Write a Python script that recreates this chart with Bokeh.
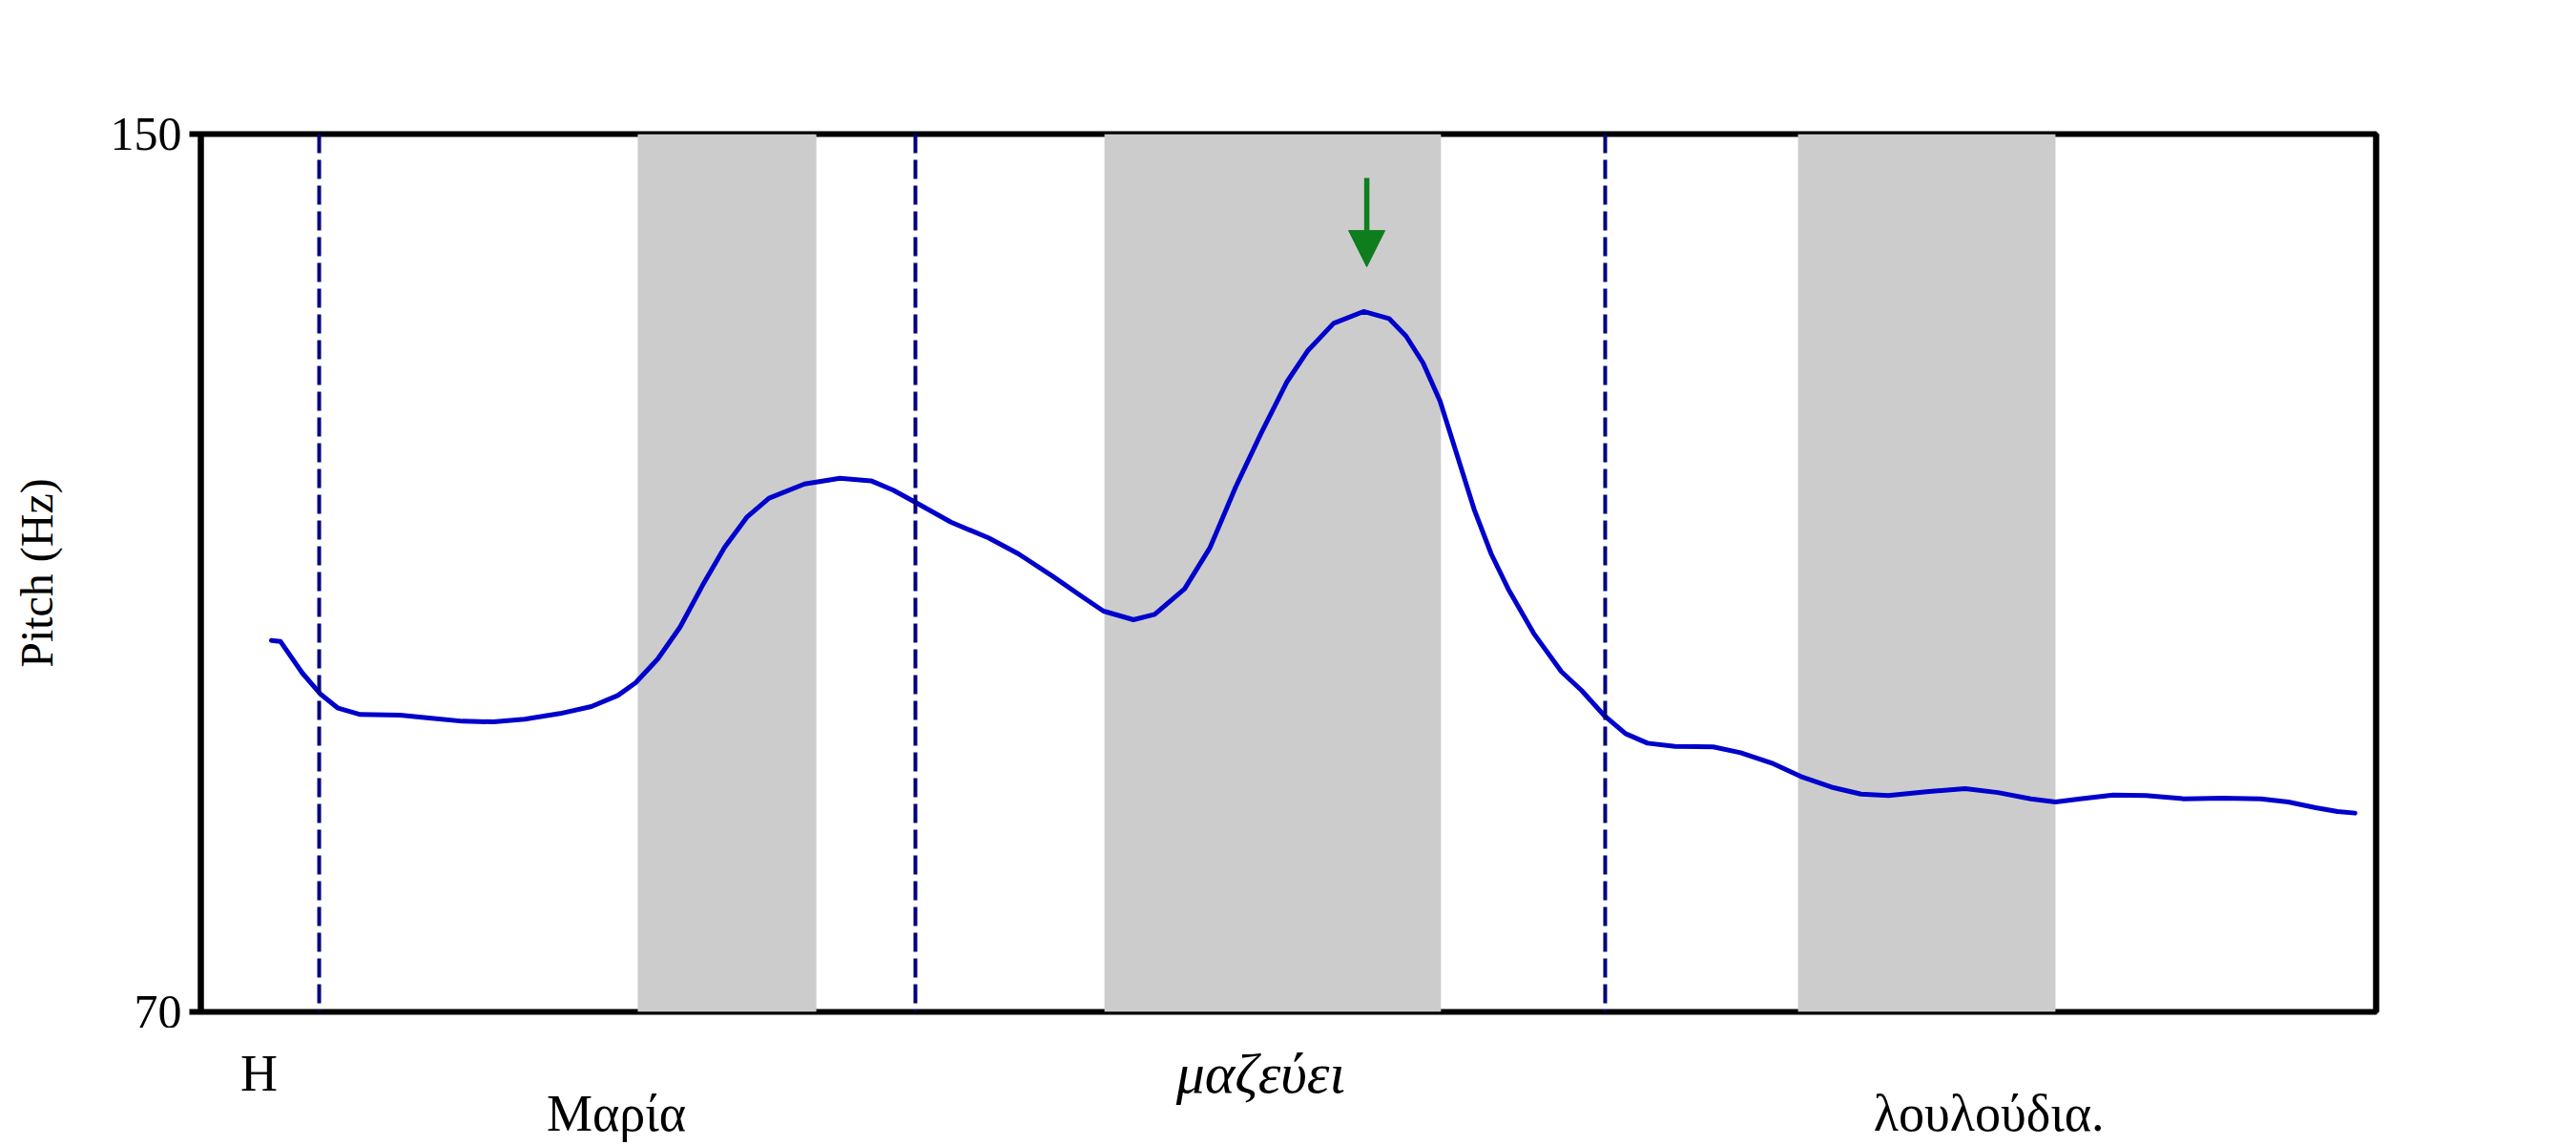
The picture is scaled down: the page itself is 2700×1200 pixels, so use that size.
from bokeh.plotting import figure
from bokeh.layouts import column
from bokeh.models import (Range1d, FixedTicker, Span, Arrow, NormalHead, LinearAxis,
                          ColumnDataSource, CDSView, BooleanFilter)
from bokeh.core.properties import value
from bokeh.embed import file_html
from bokeh.resources import INLINE

# ---- data ----
time_ms = [64.9, 73.1, 93.4, 109.8, 126.2, 146.6, 183.3, 207.7, 240.5, 269.1, 297.7,
           330.2, 359.0, 383.4, 399.8, 420.2, 440.6, 461.1, 481.5, 501.9, 522.4, 555.0,
           587.6, 616.2, 636.7, 657.1, 689.7, 724.3, 751.8, 783.1, 810.5, 830.0, 857.5,
           877.0, 904.5, 927.9, 951.4, 974.9, 998.4, 1018.0, 1041.5, 1069.0, 1092.4,
           1108.1, 1123.8, 1139.4, 1155.1, 1170.7, 1186.4, 1202.0, 1225.5, 1251.0,
           1269.6, 1290.8, 1309.9, 1330.1, 1355.3, 1390.5, 1415.7, 1445.9, 1471.1,
           1501.2, 1526.4, 1551.6, 1586.8, 1622.1, 1652.3, 1682.5, 1705.2, 1727.8,
           1758.1, 1788.3, 1823.5, 1858.8, 1894.1, 1919.2, 1944.4, 1964.5, 1980.6]
pitch_hz = [103.85, 103.77, 100.87, 98.98, 97.68, 97.10, 97.04, 96.81, 96.49, 96.43,
            96.67, 97.19, 97.83, 98.84, 100.0, 102.17, 105.07, 108.84, 112.32, 115.07,
            116.81, 118.11, 118.63, 118.40, 117.54, 116.43, 114.63, 113.19, 111.74,
            109.71, 107.83, 106.52, 105.74, 106.23, 108.55, 112.32, 117.83, 122.75,
            127.39, 130.29, 132.75, 133.83, 133.19, 131.59, 129.13, 125.65, 120.72,
            115.80, 111.74, 108.55, 104.49, 101.0, 99.28, 96.96, 95.36, 94.49, 94.20,
            94.15, 93.62, 92.61, 91.45, 90.43, 89.85, 89.71, 90.06, 90.35, 89.99, 89.42,
            89.13, 89.42, 89.77, 89.71, 89.42, 89.48, 89.42, 89.13, 88.61, 88.26, 88.12]

boundaries_ms = [108.8, 657.0, 1291.2]
stressed_start_ms = [401.7, 830.8, 1468.5]
stressed_end_ms = [565.9, 1140.2, 1705.2]

words = ["Η", "Μαρία", "μαζεύει", "λουλούδια."]
word_x_ms = [53.5, 382, 974.5, 1644]
word_row = [0, 1, 0, 1]          # 0 = upper line, 1 = lower line
word_focus = [False, False, True, False]   # focused word shown in italics

peak_x_ms = 1072
arrow_from_hz = 146.0
arrow_to_hz = 137.9

y_ticks = [70, 150]
x_min, x_max = 0, 2000
y_min, y_max = 70, 150

FONT = "Liberation Serif"
LEFT, RIGHT, TOP = 210, 210, 140
FRAME_W, FRAME_H = 2280, 920
GAP = 17                 # space under the chart frame inside the main canvas
WORDS_H = 1200 - TOP - FRAME_H - GAP
TICK_DOWN_PX = 13
px_per_hz = FRAME_H / (y_max - y_min)
frame_bounds = (y_min - TICK_DOWN_PX / px_per_hz, y_max)

# ---- main chart ----
p = figure(output_backend="svg", toolbar_location=None, title_location=None,
           x_axis_location=None,
           x_range=Range1d(x_min, x_max), y_range=Range1d(y_min, y_max),
           min_border_left=LEFT, min_border_right=RIGHT, min_border_top=TOP,
           min_border_bottom=GAP)
p.frame_width = FRAME_W
p.frame_height = FRAME_H

p.xgrid.visible = False
p.ygrid.visible = False
p.outline_line_color = "black"
p.outline_line_width = 6
p.background_fill_color = "white"

p.quad(left=stressed_start_ms, right=stressed_end_ms, bottom=y_min, top=y_max,
       fill_color="#cccccc", line_color=None)

for b in boundaries_ms:
    p.add_layout(Span(location=b, dimension="height", line_color="#000080",
                      line_width=4, line_dash="20 7"))

p.line(time_ms, pitch_hz, line_color="#0000cc", line_width=5,
       line_join="round", line_cap="round")

p.add_layout(Arrow(x_start=peak_x_ms, y_start=arrow_from_hz, x_end=peak_x_ms,
                   y_end=arrow_to_hz, line_color="#0e7d1e", line_width=5.5,
                   end=NormalHead(size=38, fill_color="#0e7d1e", line_color="#0e7d1e",
                                  line_width=1)))

p.yaxis.ticker = FixedTicker(ticks=y_ticks)
p.yaxis.bounds = frame_bounds
p.yaxis.axis_label = "Pitch (Hz)"
p.yaxis.axis_label_text_font = FONT
p.yaxis.axis_label_text_font_size = "48px"
p.yaxis.axis_label_text_font_style = "normal"
p.yaxis.axis_label_text_color = "black"
p.yaxis.axis_label_standoff = 48
p.yaxis.major_label_text_font = FONT
p.yaxis.major_label_text_font_size = "50px"
p.yaxis.major_label_text_color = "black"
p.yaxis.major_label_standoff = 8
p.yaxis.major_tick_out = 12
p.yaxis.major_tick_in = 0
p.yaxis.minor_tick_line_color = None
p.yaxis.axis_line_width = 6
p.yaxis.major_tick_line_width = 6

right_axis = LinearAxis(ticker=FixedTicker(ticks=[]), bounds=frame_bounds,
                        axis_line_width=6, major_tick_line_color=None,
                        minor_tick_line_color=None, major_label_text_font_size="0px")
p.add_layout(right_axis, "right")

# ---- word line under the chart ----
ROW_PX = 42
ROW0_PX = 47             # baseline of upper line below the top of this strip
words_src = ColumnDataSource(dict(x=word_x_ms, row=word_row, text=words))
q = figure(output_backend="svg", toolbar_location=None, title_location=None,
           x_range=p.x_range,
           y_range=Range1d(1 + (WORDS_H - ROW0_PX - ROW_PX) / ROW_PX, -ROW0_PX / ROW_PX),
           x_axis_type=None, y_axis_type=None,
           min_border_left=LEFT, min_border_right=RIGHT, min_border_top=0,
           min_border_bottom=0)
q.frame_width = FRAME_W
q.frame_height = WORDS_H
q.xgrid.visible = False
q.ygrid.visible = False
q.outline_line_color = None
q.background_fill_color = "white"

plain = CDSView(filter=BooleanFilter([not f for f in word_focus]))
focus = CDSView(filter=BooleanFilter(word_focus))
q.text(x="x", y="row", text="text", source=words_src, view=plain,
       text_font=value(FONT), text_font_size="54px", text_align="center",
       text_baseline="alphabetic", text_color="black")
q.text(x="x", y="row", text="text", source=words_src, view=focus,
       text_font=value(FONT), text_font_size="60px", text_font_style="italic",
       text_align="center", text_baseline="alphabetic", text_color="black")

layout = column(p, q, spacing=0)
open("out.html", "w").write(file_html(layout, INLINE))
